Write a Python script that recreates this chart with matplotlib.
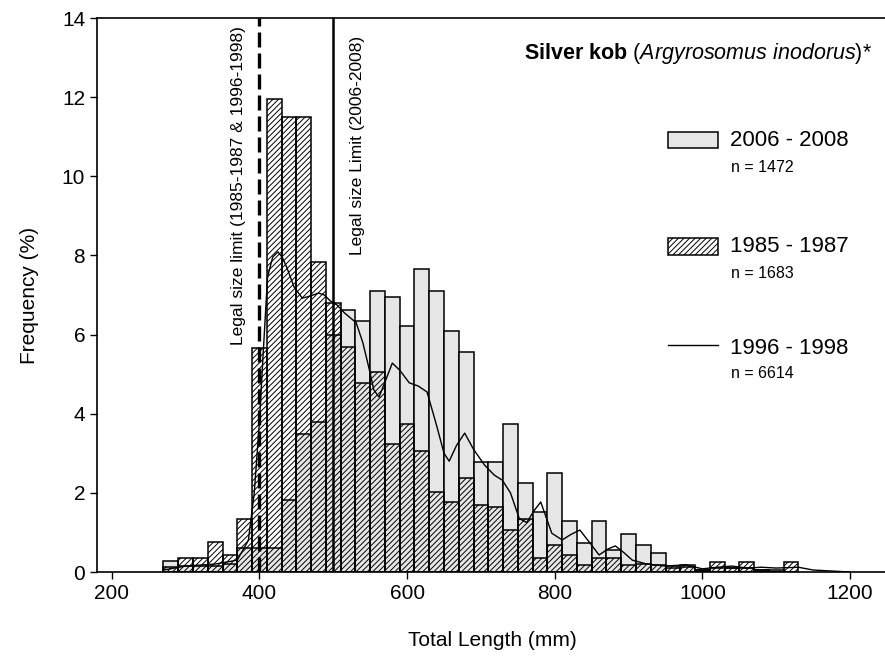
import matplotlib
matplotlib.use("Agg")
import matplotlib.pyplot as plt
from matplotlib.patches import Rectangle
from matplotlib.lines import Line2D
import numpy as np

plt.rcParams['font.family'] = ['Liberation Sans', 'DejaVu Sans']
plt.rcParams['mathtext.fontset'] = 'custom'
plt.rcParams['mathtext.rm'] = 'Liberation Sans'
plt.rcParams['mathtext.it'] = 'Liberation Sans:italic'
plt.rcParams['mathtext.bf'] = 'Liberation Sans:bold'
plt.rcParams['hatch.linewidth'] = 0.7

# bin centres (mm), 20 mm classes
bins = [280, 300, 320, 340, 360, 380, 400, 420, 440, 460, 480, 500, 520, 540,
        560, 580, 600, 620, 640, 660, 680, 700, 720, 740, 760, 780, 800, 820,
        840, 860, 880, 900, 920, 940, 960, 980, 1000, 1020, 1040, 1060, 1080,
        1100, 1120]

# 2006 - 2008 (grey bars)
freq_0608 = [0.28, 0.15, 0.15, 0.15, 0.2, 0.6, 0.6, 0.6, 1.82, 3.5, 3.8, 6.0,
             6.62, 6.35, 7.1, 6.95, 6.22, 7.65, 7.1, 6.09, 5.56, 2.78, 2.78,
             3.74, 2.25, 1.52, 2.5, 1.29, 0.73, 1.29, 0.56, 0.96, 0.68, 0.48,
             0.1, 0.12, 0.05, 0.1, 0.1, 0.1, 0.05, 0.05, 0.0]

# 1985 - 1987 (hatched bars)
freq_8587 = [0.13, 0.35, 0.35, 0.76, 0.42, 1.34, 5.66, 11.95, 11.5, 11.5, 7.83,
             6.8, 5.69, 4.77, 5.05, 3.23, 3.74, 3.06, 2.02, 1.77, 2.38, 1.69,
             1.64, 1.06, 1.33, 0.35, 0.68, 0.43, 0.18, 0.35, 0.35, 0.18, 0.2,
             0.18, 0.15, 0.18, 0.05, 0.25, 0.1, 0.25, 0.05, 0.0, 0.25]

# 1996 - 1998 (smoothed line)
line_x = [270, 300, 340, 370, 385, 393, 400, 405, 411, 418, 425, 431, 437, 447,
          458, 470, 480, 488, 496, 505, 515, 531, 540, 548, 555, 562, 570, 580,
          590, 603, 615, 627, 640, 650, 657, 667, 678, 690, 705, 718, 729, 740,
          752, 762, 772, 781, 788, 796, 810, 822, 834, 847, 860, 872, 882, 893,
          905, 925, 950, 977, 1000, 1020, 1040, 1060, 1080, 1100, 1130, 1150, 1200]
line_y = [0.05, 0.15, 0.2, 0.3, 0.8, 2.0, 3.8, 5.5, 7.45, 7.96, 8.09, 7.95, 7.7,
          7.2, 6.92, 6.98, 7.05, 7.0, 6.85, 6.75, 6.55, 6.3, 5.8, 5.18, 4.6, 4.42,
          4.8, 5.28, 5.1, 4.78, 4.7, 4.55, 3.7, 3.0, 2.8, 3.2, 3.51, 3.1, 2.7,
          2.45, 2.32, 2.0, 1.35, 1.25, 1.55, 1.77, 1.4, 0.98, 0.81, 0.95, 1.06,
          0.75, 0.43, 0.58, 0.66, 0.5, 0.3, 0.2, 0.15, 0.18, 0.08, 0.12, 0.15,
          0.1, 0.12, 0.1, 0.12, 0.05, 0.0]

fig = plt.figure(figsize=(8.85, 6.61), dpi=100)
ax = fig.add_axes([97 / 885, 1 - 572 / 661, 790 / 885, 554 / 661])

grey = '#e6e6e6'
hatch = '//////'
ax.bar(bins, freq_0608, width=20, color=grey, edgecolor='black', linewidth=1.1, zorder=1)
ax.bar(bins, freq_8587, width=20, facecolor='none', edgecolor='black', linewidth=1.1,
       hatch=hatch, zorder=2)
ax.plot(line_x, line_y, color='black', linewidth=1.0, zorder=3)

# legal size limits
ax.axvline(400, color='black', linewidth=2.4, linestyle=(0, (4.5, 1.8)), zorder=4)
ax.axvline(500, color='black', linewidth=1.8, zorder=4)
ax.text(371, 5.74, 'Legal size limit (1985-1987 & 1996-1998)', rotation=90,
        ha='center', va='bottom', fontsize=12.5)
ax.text(533, 8.0, 'Legal size Limit (2006-2008)', rotation=90,
        ha='center', va='bottom', fontsize=12.5)

ax.set_xlim(180, 1250)
ax.set_ylim(0, 14)
ax.set_xticks([200, 400, 600, 800, 1000, 1200])
ax.set_yticks([0, 2, 4, 6, 8, 10, 12, 14])
ax.tick_params(direction='out', length=5, width=1, labelsize=15)
for s in ax.spines.values():
    s.set_linewidth(1.2)

ax.set_xlabel('Total Length (mm)', fontsize=15)
ax.set_ylabel('Frequency (%)', fontsize=15)
ax.xaxis.set_label_coords(0.5, -0.107)
ax.yaxis.set_label_coords(-0.073, 0.5)

# title and legend, placed in figure pixels
def fx(px):
    return px / 885

def fy(py):
    return 1 - py / 661

fig.text(fx(872), fy(53), r'$\bf{Silver\ kob}$ ($\it{Argyrosomus\ inodorus)}$*',
         ha='right', va='center', fontsize=15.5)

fig.patches.append(Rectangle((fx(668), fy(148)), fx(50), 16 / 661, facecolor=grey,
                             edgecolor='black', linewidth=1.1, transform=fig.transFigure))
fig.patches.append(Rectangle((fx(668), fy(255)), fx(50), 17 / 661, facecolor='none',
                             edgecolor='black', linewidth=1.1, hatch=hatch,
                             transform=fig.transFigure))
fig.lines.append(Line2D([fx(668), fx(718)], [fy(345), fy(345)], color='black',
                        linewidth=1.0, transform=fig.transFigure))

labels = ['2006 - 2008', '1985 - 1987', '1996 - 1998']
counts = ['n = 1472', 'n = 1683', 'n = 6614']
label_y = [140, 247, 348]
count_y = [168, 273, 373]
for lab, cnt, ly, cy in zip(labels, counts, label_y, count_y):
    fig.text(fx(730), fy(ly), lab, ha='left', va='center', fontsize=16)
    fig.text(fx(731), fy(cy), cnt, ha='left', va='center', fontsize=11.5)

fig.savefig('out.png', dpi=100)
